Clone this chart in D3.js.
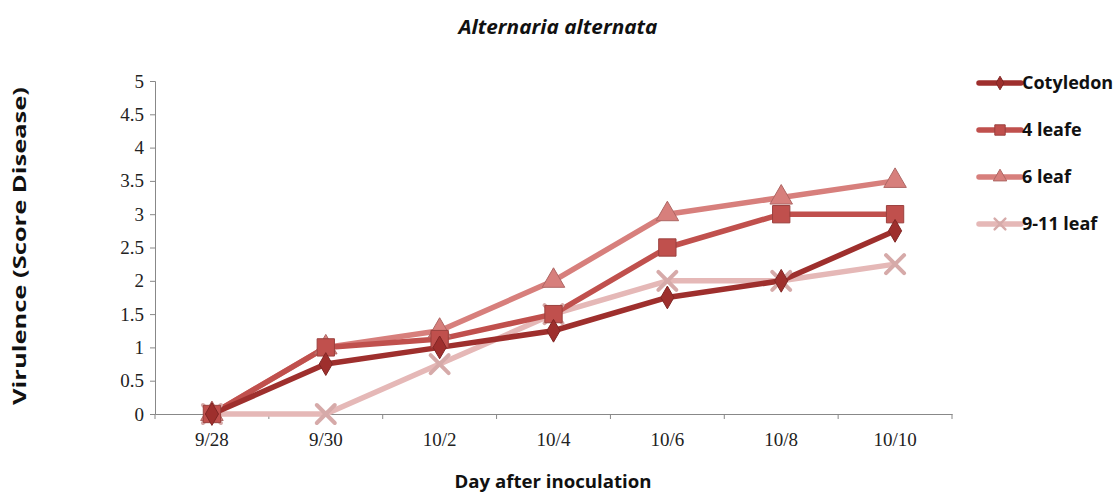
<!DOCTYPE html>
<html>
<head>
<meta charset="utf-8">
<script src="https://cdn.jsdelivr.net/npm/d3@7"></script>
<style>
  body { margin: 0; background: #fff; }
</style>
</head>
<body>
<div id="graph"></div>
<script>
const days = ['9/28', '9/30', '10/2', '10/4', '10/6', '10/8', '10/10'];
const cotyledon = [0, 0.75, 1, 1.25, 1.75, 2, 2.75];
const leafe4 = [0, 1, 1.125, 1.5, 2.5, 3, 3];
const leaf6 = [0, 1, 1.25, 2, 3, 3.25, 3.5];
const leaf911 = [0, 0, 0.75, 1.5, 2, 2, 2.25];
const yTicks = [0, 0.5, 1, 1.5, 2, 2.5, 3, 3.5, 4, 4.5, 5];

const series = [
  { name: 'Cotyledon', values: cotyledon, color: '#9e2f2d', symbol: d3.symbolDiamond, size: 150 },
  { name: '4 leafe', values: leafe4, color: '#c0504d', symbol: d3.symbolSquare, size: 300 },
  { name: '6 leaf', values: leaf6, color: '#d77f7c', symbol: d3.symbolTriangle, size: 220 },
  { name: '9-11 leaf', values: leaf911, color: '#e5b8b7', symbol: d3.symbolCross, size: 0 }
];

const width = 1117, height = 493;
const svg = d3.select('#graph').append('svg')
  .attr('width', width)
  .attr('height', height);

const x = d3.scaleBand().domain(days).range([155, 952]);
const y = d3.scaleLinear().domain([0, 5]).range([414, 81]);

// axes
const yAxis = svg.append('g')
  .attr('transform', 'translate(155,0)')
  .call(d3.axisLeft(y).tickValues(yTicks).tickSize(5).tickPadding(6).tickFormat(d3.format('')));
yAxis.select('.domain').attr('stroke', '#888');
yAxis.selectAll('.tick line').attr('stroke', '#888');

const xAxis = svg.append('g')
  .attr('transform', 'translate(0,414)')
  .call(d3.axisBottom(x).tickSize(0).tickPadding(19));
xAxis.select('.domain').attr('stroke', '#888');
// tick marks between categories
xAxis.selectAll('.sep')
  .data(d3.range(days.length + 1))
  .enter().append('line')
  .attr('x1', i => 155 + i * x.step())
  .attr('x2', i => 155 + i * x.step())
  .attr('y1', 0).attr('y2', 5)
  .attr('stroke', '#888');

[yAxis, xAxis].forEach(a => {
  a.selectAll('.tick text')
    .style('font-family', '"Liberation Serif", serif')
    .style('font-size', '19px')
    .attr('fill', '#222');
});

const line = d3.line()
  .x((d, i) => x(days[i]) + x.bandwidth() / 2)
  .y(d => y(d));

const plot = svg.append('g');
// draw back to front
[...series].reverse().forEach(s => {
  plot.append('path')
    .datum(s.values)
    .attr('d', line)
    .attr('fill', 'none')
    .attr('stroke', s.color)
    .attr('stroke-width', 5.5)
    .attr('stroke-linejoin', 'round');
});
[...series].reverse().forEach(s => {
  const g = plot.append('g');
  s.values.forEach((v, i) => {
    drawMarker(g, s, x(days[i]) + x.bandwidth() / 2, y(v), 1);
  });
});

function drawMarker(g, s, cx, cy, k) {
  if (s.name === '9-11 leaf') {
    const r = 9 * k;
    g.append('path')
      .attr('d', `M${cx - r},${cy - r}L${cx + r},${cy + r}M${cx - r},${cy + r}L${cx + r},${cy - r}`)
      .attr('stroke', '#d6aaa9')
      .attr('stroke-width', 4 * Math.max(k, 0.6))
      .attr('stroke-linecap', 'round');
  } else {
    g.append('path')
      .attr('d', d3.symbol().type(s.symbol).size(s.size * k * k)())
      .attr('transform', `translate(${cx},${cy})`)
      .attr('fill', s.color)
      .attr('stroke', d3.color(s.color).darker(0.6))
      .attr('stroke-width', 1);
  }
}

// legend
const legend = svg.append('g');
series.forEach((s, i) => {
  const ly = 83 + i * 47;
  legend.append('line')
    .attr('x1', 979).attr('x2', 1021)
    .attr('y1', ly).attr('y2', ly)
    .attr('stroke', s.color).attr('stroke-width', 5.5)
    .attr('stroke-linecap', 'round');
  drawMarker(legend, s, 1000, ly, 0.6);
  legend.append('text')
    .attr('x', 1022).attr('y', ly + 6)
    .attr('font-family', '"Open Sans", sans-serif')
    .attr('font-weight', 'bold')
    .attr('font-size', 18)
    .attr('fill', '#111')
    .text(s.name);
});

// title and axis labels
svg.append('text')
  .attr('x', 558).attr('y', 34)
  .attr('text-anchor', 'middle')
  .attr('font-family', '"Open Sans", sans-serif')
  .attr('font-weight', 'bold')
  .attr('font-style', 'italic')
  .attr('font-size', 20)
  .attr('textLength', 199)
  .attr('lengthAdjust', 'spacingAndGlyphs')
  .attr('fill', '#111')
  .text('Alternaria alternata');

svg.append('text')
  .attr('x', 553).attr('y', 488)
  .attr('text-anchor', 'middle')
  .attr('font-family', '"Open Sans", sans-serif')
  .attr('font-weight', 'bold')
  .attr('font-size', 18.5)
  .attr('textLength', 197)
  .attr('lengthAdjust', 'spacingAndGlyphs')
  .attr('fill', '#111')
  .text('Day after inoculation');

svg.append('text')
  .attr('transform', 'translate(26,246) rotate(-90)')
  .attr('text-anchor', 'middle')
  .attr('font-family', '"Open Sans", sans-serif')
  .attr('font-weight', 'bold')
  .attr('font-size', 18)
  .attr('textLength', 318)
  .attr('lengthAdjust', 'spacingAndGlyphs')
  .attr('fill', '#111')
  .text('Virulence (Score Disease)');
</script>
</body>
</html>
